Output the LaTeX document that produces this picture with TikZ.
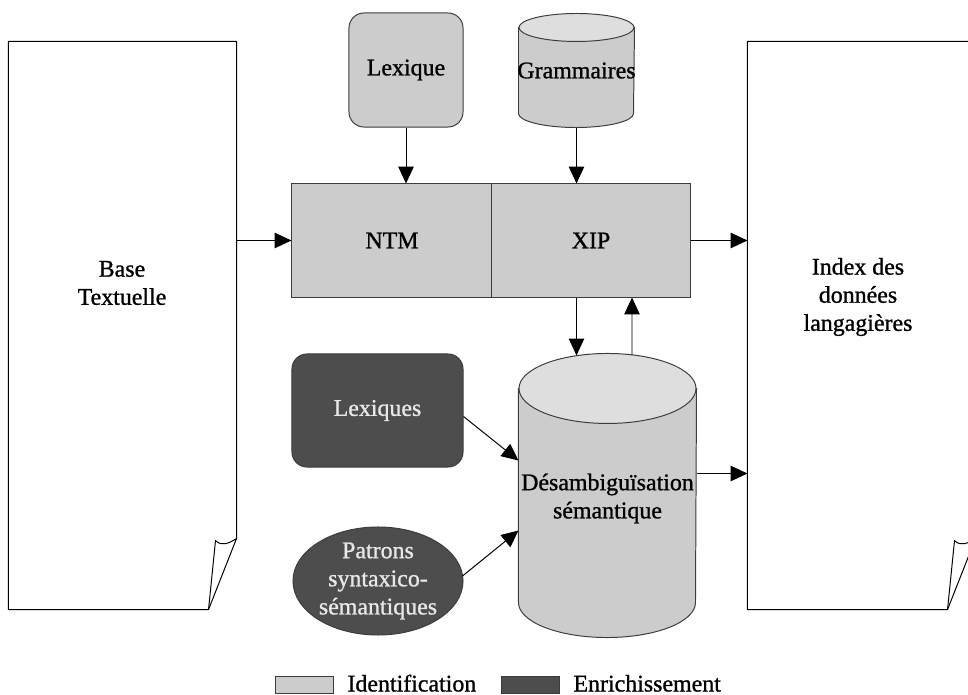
\documentclass[tikz,border=0pt]{standalone}
\usepackage{fontspec}
\setmainfont{Liberation Serif}[FakeBold=1]
\usetikzlibrary{arrows.meta,calc,shapes.geometric}

\definecolor{idgray}{HTML}{CCCCCC}
\definecolor{idtop}{HTML}{DEDEDE}
\definecolor{engray}{HTML}{4D4D4D}
\definecolor{entext}{HTML}{E8E8E8}
\definecolor{edgegray}{HTML}{3C3C3C}

\tikzset{
  pagebox/.style={draw=none, minimum width=5.675cm, minimum height=14.175cm, inner sep=0pt},
  pageline/.style={draw=black, line width=0.7pt, line join=round},
  ident/.style={draw=edgegray, fill=idgray, inner sep=0pt},
  enrich/.style={draw=edgegray, fill=engray, text=entext, inner sep=0pt},
  cylbox/.style={draw=none, inner sep=0pt, align=center},
  cylline/.style={draw=edgegray, line width=0.7pt},
  legbox/.style={draw=edgegray, minimum width=1.45cm, minimum height=0.425cm, inner sep=0pt},
}

\begin{document}
\begin{tikzpicture}[x=0.025cm, y=-0.025cm, line width=0.7pt,
    font=\fontsize{17}{20}\selectfont, >={Triangle[length=12pt,width=11pt]}]
      \useasboundingbox (0,0) rectangle (968,695);
      %%%%%%%%%%%%%%%%%%%%%%%%%%%%%%%%%%%%%%%%%%%%%%%
      \node[pagebox] (base)  at (122.5,325.5) {};
      \node[pagebox] (index) at (861.5,325.5) {};
      \draw[pageline] (base.north west) -- (base.north east) -- ($(base.south east)+(0,-71)$)
            -- ($(base.south east)+(-28,0)$) -- (base.south west) -- cycle;
      \draw[pageline] ($(base.south east)+(0,-71)$) .. controls +(-8,5) and +(6,6) .. ($(base.south east)+(-21,-69)$)
            -- ($(base.south east)+(-28,0)$);
      \draw[pageline] (index.north west) -- (index.north east) -- ($(index.south east)+(0,-71)$)
            -- ($(index.south east)+(-28,0)$) -- (index.south west) -- cycle;
      \draw[pageline] ($(index.south east)+(0,-71)$) .. controls +(-8,5) and +(6,6) .. ($(index.south east)+(-21,-69)$)
            -- ($(index.south east)+(-28,0)$);
      \node[align=center] (basetxt)  at (122,283) {Base\\Textuelle};
      \node[align=center] (indextxt) at (858,297) {Index des\\données\\langagières};
      %%%%%%%%%%%%%%%%%%%%%%%%%%%%%%%%%%%%%%%%%%%%%%%
      \node[ident, rounded corners=0.375cm, minimum width=2.85cm, minimum height=2.85cm] (lexique) at (406,70) {Lexique};
      \node[cylbox, minimum width=2.875cm, minimum height=2.825cm] (gram) at (576.5,70.5) {};
      \draw[cylline, fill=idgray] ($(gram.north west)+(0,14)$) -- ($(gram.south west)+(0,-14)$)
            arc[start angle=180, end angle=0, x radius=57.5, y radius=14] -- ($(gram.north east)+(0,14)$) -- cycle;
      \draw[cylline, fill=idtop] ($(gram.north)+(0,14)$) ellipse[x radius=57.5, y radius=14];
      \node[cylbox] at (gram.center) {Grammaires};
      \node[ident, minimum width=5cm, minimum height=2.825cm] (ntm) at (392,240.5) {NTM};
      \node[ident, minimum width=4.95cm, minimum height=2.825cm] (xip) at (591,240.5) {XIP};
      %%%%%%%%%%%%%%%%%%%%%%%%%%%%%%%%%%%%%%%%%%%%%%%
      \node[enrich, rounded corners=0.375cm, minimum width=4.275cm, minimum height=2.825cm] (lexiques) at (377.5,410.5) {Lexiques};
      \node[enrich, ellipse, minimum width=4.25cm, minimum height=2.7cm,
            label={[text=entext, align=center]center:{Patrons\\syntaxico-\\sémantiques}}] (patrons) at (378,581) {};
      \node[cylbox, minimum width=4.425cm, minimum height=7.075cm] (desamb) at (607.5,495.5) {};
      \draw[cylline, fill=idgray] ($(desamb.north west)+(0,35)$) -- ($(desamb.south west)+(0,-35)$)
            arc[start angle=180, end angle=0, x radius=88.5, y radius=35] -- ($(desamb.north east)+(0,35)$) -- cycle;
      \draw[cylline, fill=idtop] ($(desamb.north)+(0,35)$) ellipse[x radius=88.5, y radius=35];
      \node[cylbox] at ($(desamb.center)+(0,3)$) {Désambiguïsation\\sémantique};
      %%%%%%%%%%%%%%%%%%%%%%%%%%%%%%%%%%%%%%%%%%%%%%%
      \draw[->] (lexique.south) -- (lexique.south |- ntm.north);
      \draw[->] (gram.south) -- (gram.south |- xip.north);
      \draw[->] (base.east |- ntm.west) -- (ntm.west);
      \draw[->] (xip.east) -- (index.west |- xip.east);
      \draw[->] (gram.south |- xip.south) -- ($(gram.south |- desamb.north)+(0,2)$);
      \draw[->] ($(desamb.north)+(24.5,1.5)$) -- ($(xip.south)+(41,0)$);
      \draw[->] ($(desamb.east)+(0,-22)$) -- ($(index.west |- desamb.east)+(0,-22)$);
      \draw[->] ($(lexiques.east)+(0,6)$) -- ($(desamb.west)+(0,-35)$);
      \draw[->] ($(patrons.east)+(-1,-5)$) -- ($(desamb.west)+(0,35)$);
      %%%%%%%%%%%%%%%%%%%%%%%%%%%%%%%%%%%%%%%%%%%%%%%
      \node[legbox, fill=idgray] (legid) at (304,685) {};
      \node[anchor=base west, inner sep=0pt] (legidtxt) at (347,691.5) {Identification};
      \node[legbox, fill=engray] (legen) at (530.5,685) {};
      \node[anchor=base west, inner sep=0pt] (legentxt) at (573,691.5) {Enrichissement};
\end{tikzpicture}
\end{document}
